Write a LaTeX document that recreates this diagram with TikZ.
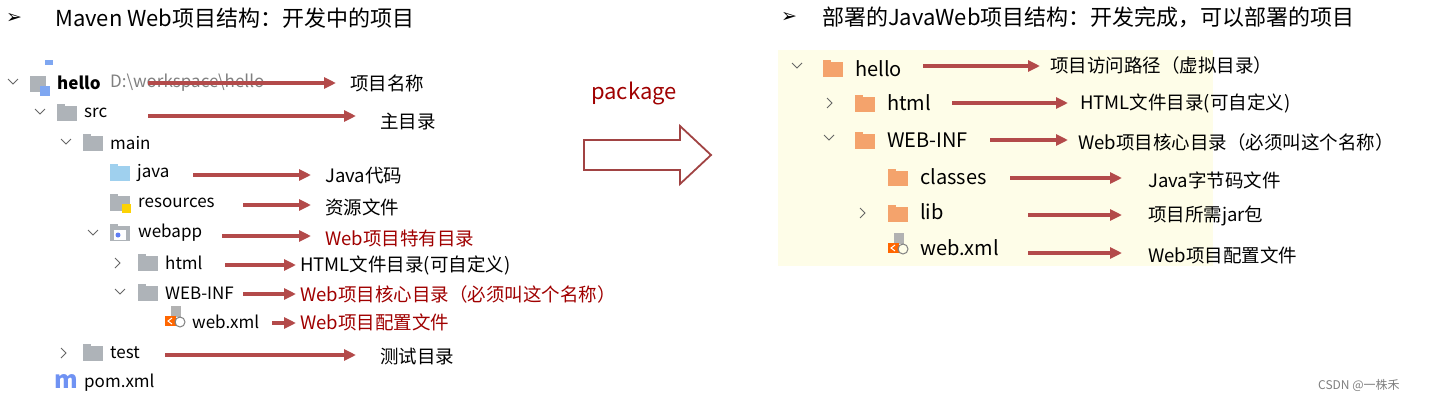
\documentclass[tikz,border=0pt]{standalone}
\usepackage{fontspec}
\setmainfont{Noto Sans CJK SC}
\newfontfamily\symf{DejaVu Sans}
\usetikzlibrary{arrows.meta}
\definecolor{arrc}{HTML}{B34A4A}
\definecolor{dred}{HTML}{A00000}
\definecolor{fgray}{HTML}{AEB3B8}
\definecolor{forange}{HTML}{F4A36C}
\definecolor{fblue}{HTML}{9FD0EE}
\definecolor{bgy}{HTML}{FEFDE8}
\newcommand\fldr[3]{\fill[#3] (#1,#2-7) rectangle (#1+20,#2+8); \fill[#3] (#1,#2-9) rectangle (#1+8,#2-6);}
\newcommand\chevd[2]{\draw[gray!80!black,line width=1pt] (#1-5,#2-3) -- (#1,#2+2) -- (#1+5,#2-3);}
\newcommand\chevr[2]{\draw[gray!80!black,line width=1pt] (#1-2,#2-5) -- (#1+3,#2) -- (#1-2,#2+5);}
\newcommand\xmlicon[2]{\fill[gray!60] (#1+6,#2-10) rectangle (#1+16,#2+1); \fill[orange!80!red] (#1,#2) rectangle (#1+11,#2+10); \draw[white,line width=1pt] (#1+7,#2+2) -- (#1+3,#2+5) -- (#1+7,#2+8); \draw[gray,line width=1pt] (#1+15,#2+6) circle (5);}
\tikzset{
 t/.style={anchor=west,inner sep=0pt,font=\fontsize{17}{19}\selectfont},
 tr/.style={anchor=west,inner sep=0pt,font=\fontsize{20}{22}\selectfont},
 lb/.style={anchor=west,inner sep=0pt,font=\fontsize{18.5}{20}\selectfont},
 arr/.style={draw=arrc,line width=3.5pt,-{Triangle[length=12pt,width=11pt]}},
}
\begin{document}
\begin{tikzpicture}[x=1pt,y=-1pt]
\useasboundingbox (0,0) rectangle (1432,402);
\fill[white] (0,0) rectangle (1432,402);
% titles
\node[anchor=west,inner sep=0pt,font=\symf\fontsize{19}{20}\selectfont] (b1) at (6,18) {➢};
\node[anchor=west,inner sep=0pt,font=\fontsize{22}{24}\selectfont] (ti1) at (55,18) {Maven Web项目结构：开发中的项目};
\node[anchor=west,inner sep=0pt,font=\symf\fontsize{19}{20}\selectfont] (b2) at (781,17) {➢};
\node[anchor=west,inner sep=0pt,font=\fontsize{22}{24}\selectfont] (ti2) at (822,17) {部署的JavaWeb项目结构：开发完成，可以部署的项目};
% left tree
\fill[fgray] (30,76) rectangle (46,92); \fill[fblue!80!blue] (40,86) rectangle (50,96); \fill[fblue!80!blue] (45,60) rectangle (53,65);
\chevd{13}{82}
\node[t,font=\bfseries\fontsize{17}{19}\selectfont] (hello) at (57,83) {hello};
\node[t,text=gray] (path) at (110,83) {D:\textbackslash workspace\textbackslash hello};
\chevd{40}{112} \fldr{57}{113}{fgray} \node[t] (src) at (84,113) {src};
\chevd{66}{142} \fldr{83}{143}{fgray} \node[t] (main) at (110,143) {main};
\fldr{110}{173}{fblue} \node[t] (java) at (137,173) {java};
\fldr{110}{203}{fgray} \fill[yellow!70!orange] (122,204) rectangle (131,213); \node[t] (res) at (138,203) {resources};
\chevd{93}{233} \fldr{110}{233}{fgray} \fill[white] (114,230) rectangle (126,240); \fill[fblue!60!blue] (118,235) circle (2.5); \node[t] (webapp) at (138,233) {webapp};
\chevr{117}{263} \fldr{138}{263}{fgray} \node[t] (html) at (165,263) {html};
\chevd{120}{292} \fldr{138}{293}{fgray} \node[t] (webinf) at (165,293) {WEB-INF};
\xmlicon{165}{316} \node[t] (webxml) at (192,322) {web.xml};
\chevr{63}{353} \fldr{83}{353}{fgray} \node[t] (test) at (110,353) {test};
\node[anchor=west,inner sep=0pt,text=fblue!70!blue,font=\bfseries\itshape\fontsize{24}{24}\selectfont] (m) at (54,381) {m};
\node[t] (pom) at (84,383) {pom.xml};
% left labels
\node[lb] (l1) at (350,83) {项目名称};
\node[lb] (l2) at (380,122) {主目录};
\node[lb] (l3) at (325,176) {Java代码};
\node[lb] (l4) at (325,207) {资源文件};
\node[lb,text=dred] (l5) at (325,238) {Web项目特有目录};
\node[lb] (l6) at (300,265) {HTML文件目录(可自定义)};
\node[lb,text=dred] (l7) at (300,294) {Web项目核心目录（必须叫这个名称）};
\node[lb,text=dred] (l8) at (300,322) {Web项目配置文件};
\node[lb] (l9) at (380,357) {测试目录};
\coordinate (a1) at (148,83); \coordinate (e1) at (336,83);
\coordinate (a2) at (148,116); \coordinate (e2) at (356,116);
\coordinate (a3) at (193,175); \coordinate (e3) at (311,175);
\coordinate (a4) at (243,205); \coordinate (e4) at (311,205);
\coordinate (a5) at (222,236); \coordinate (e5) at (311,236);
\coordinate (a6) at (225,265); \coordinate (e6) at (296,265);
\coordinate (a7) at (243,294); \coordinate (e7) at (296,294);
\coordinate (a8) at (272,323); \coordinate (e8) at (296,323);
\coordinate (a9) at (165,355); \coordinate (e9) at (356,355);
\foreach \i in {1,...,9} {\draw[arr] (a\i) -- (e\i);}
% package arrow
\node[anchor=west,inner sep=0pt,text=dred,font=\fontsize{22}{24}\selectfont] (pkg) at (591,93) {package};
\draw[draw=arrc!90!black,line width=1.8pt,fill=white] (584,140) -- (680,140) -- (680,126) -- (711,155) -- (680,184) -- (680,170) -- (584,170) -- cycle;
% right panel
\fill[bgy] (778,50) rectangle (1213,266);
\chevd{797}{66} \fldr{823}{69}{forange} \node[tr] (rh) at (855,69) {hello};
\chevr{829}{103} \fldr{855}{104}{forange} \node[tr] (rhtml) at (887,103) {html};
\chevd{829}{138} \fldr{855}{141}{forange} \node[tr] (rwi) at (887,140) {WEB-INF};
\fldr{888}{178}{forange} \node[tr] (rcl) at (920,177) {classes};
\chevr{862}{213} \fldr{888}{214}{forange} \node[tr] (rlib) at (920,212) {lib};
\xmlicon{888}{243} \node[tr] (rxml) at (920,248) {web.xml};
\node[lb] (r1) at (1050,65) {项目访问路径（虚拟目录）};
\node[lb] (r2) at (1080,103) {HTML文件目录(可自定义)};
\node[lb] (r3) at (1078,142) {Web项目核心目录（必须叫这个名称）};
\node[lb] (r4) at (1148,180) {Java字节码文件};
\node[lb] (r5) at (1148,216) {项目所需jar包};
\node[lb] (r6) at (1148,255) {Web项目配置文件};
\coordinate (b1s) at (923,66); \coordinate (b1e) at (1040,66);
\coordinate (b2s) at (952,103); \coordinate (b2e) at (1068,103);
\coordinate (b3s) at (990,140); \coordinate (b3e) at (1068,140);
\coordinate (b4s) at (1010,178); \coordinate (b4e) at (1122,178);
\coordinate (b5s) at (1028,215); \coordinate (b5e) at (1122,215);
\coordinate (b6s) at (1028,253); \coordinate (b6e) at (1122,253);
\foreach \i in {1,...,6} {\draw[arr] (b\i s) -- (b\i e);}
\node[anchor=west,inner sep=0pt,text=gray,font=\fontsize{12}{14}\selectfont] (wm) at (1318,385) {CSDN @一株禾};
\end{tikzpicture}
\end{document}
